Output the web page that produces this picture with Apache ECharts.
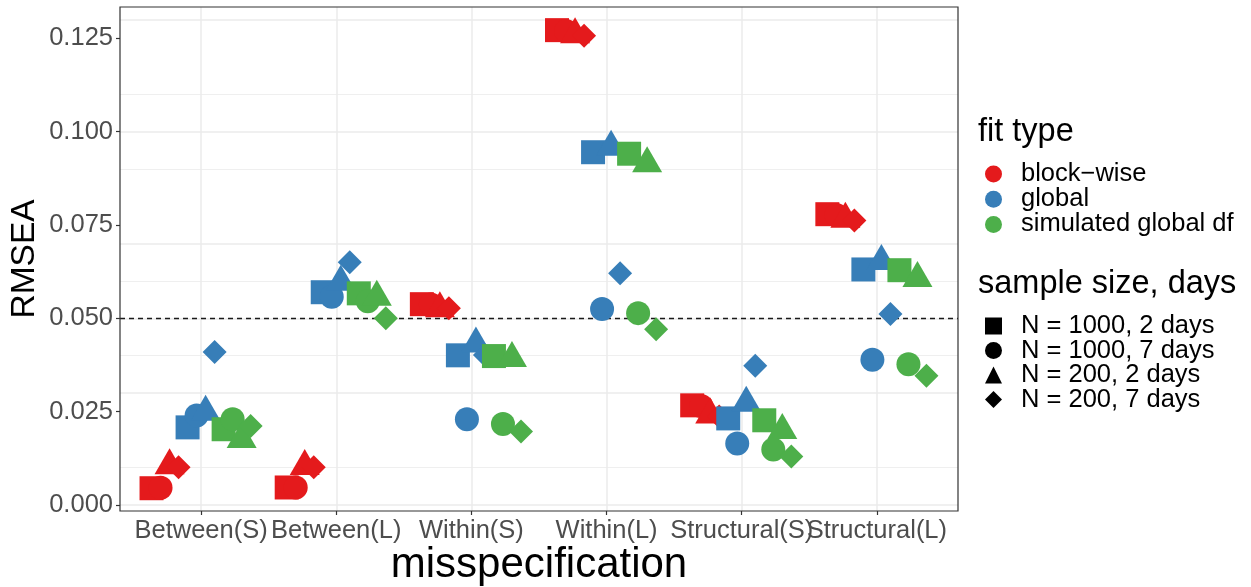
<!DOCTYPE html>
<html>
<head>
<meta charset="utf-8">
<script src="https://cdn.jsdelivr.net/npm/echarts@6/dist/echarts.min.js"></script>
<style>
html,body{margin:0;padding:0;background:#fff;}
#chart{width:1251px;height:587px;}
</style>
</head>
<body>
<div id="chart"></div>
<script>
// ---- data ----
const categories = ['Between(S)', 'Between(L)', 'Within(S)', 'Within(L)', 'Structural(S)', 'Structural(L)'];
const fitTypes = ['block\u2212wise', 'global', 'simulated global df'];
const sampleSizes = ['N = 1000, 2 days', 'N = 1000, 7 days', 'N = 200, 2 days', 'N = 200, 7 days'];
const yTicks = [0, 0.025, 0.05, 0.075, 0.1, 0.125];
const yMinorTicks = [0.0125, 0.0375, 0.0625, 0.0875, 0.1125];
const threshold = 0.05;

const blockwiseN1000d2 = [0.0045, 0.0047, 0.0538, 0.1272, 0.0267, 0.0779];
const blockwiseN1000d7 = [0.0046, 0.0047, 0.0537, 0.1270, 0.0265, 0.0777];
const blockwiseN200d2  = [0.0106, 0.0104, 0.0526, 0.1260, 0.0242, 0.0766];
const blockwiseN200d7  = [0.0101, 0.0101, 0.0527, 0.1257, 0.0237, 0.0762];
const globalN1000d2    = [0.0208, 0.0570, 0.0401, 0.0945, 0.0232, 0.0631];
const globalN1000d7    = [0.0240, 0.0558, 0.0230, 0.0525, 0.0165, 0.0389];
const globalN200d2     = [0.0249, 0.0597, 0.0432, 0.0959, 0.0273, 0.0653];
const globalN200d7     = [0.0410, 0.0650, 0.0402, 0.0621, 0.0373, 0.0512];
const simulatedN1000d2 = [0.0203, 0.0567, 0.0399, 0.0941, 0.0227, 0.0629];
const simulatedN1000d7 = [0.0230, 0.0546, 0.0217, 0.0514, 0.0149, 0.0377];
const simulatedN200d2  = [0.0176, 0.0557, 0.0393, 0.0915, 0.0200, 0.0607];
const simulatedN200d7  = [0.0212, 0.0500, 0.0197, 0.0471, 0.0130, 0.0346];

// ---- styling ----
const fitColors = ['#E41A1C', '#377EB8', '#4DAF4A'];
const shapeSymbols = ['rect', 'circle', 'triangle', 'diamond'];
const shapeSizes = [24, 24, [30, 26], 24];
const shapeOffsets = [[0, 0], [0, 0], [0, -4.3], [0, 0]];
const FONT = 'Liberation Sans, Arial, sans-serif';

const valueGroups = [
  [blockwiseN1000d2, blockwiseN1000d7, blockwiseN200d2, blockwiseN200d7],
  [globalN1000d2, globalN1000d7, globalN200d2, globalN200d7],
  [simulatedN1000d2, simulatedN1000d7, simulatedN200d2, simulatedN200d7]
];

const dodgeWidth = 0.8;
const nGroups = 12;

// panel geometry (ggplot discrete axis: 0.6 units padding on each side)
const P_LEFT = 120, P_RIGHT = 293, P_TOP = 7, P_BOTTOM = 76;
const bandPx = (1251 - P_LEFT - P_RIGHT) / (categories.length + 0.2);
const inset = 0.1 * bandPx;

const series = [];

// grid lines + reference line (drawn beneath the points)
series.push({
  type: 'scatter',
  name: '_grid',
  data: [],
  silent: true,
  markLine: {
    silent: true,
    z: 1,
    symbol: ['none', 'none'],
    label: { show: false },
    animation: false,
    data: [
      ...yMinorTicks.map(v => ({ yAxis: v, lineStyle: { color: '#EBEBEB', width: 0.8, type: 'solid' } })),
      ...yTicks.map(v => ({ yAxis: v, lineStyle: { color: '#EBEBEB', width: 1.5, type: 'solid' } })),
      ...categories.map((c, i) => ({ xAxis: i + 1, lineStyle: { color: '#EBEBEB', width: 1.5, type: 'solid' } })),
      { yAxis: threshold, lineStyle: { color: '#1a1a1a', width: 1.3, type: [5, 4] } }
    ]
  }
});

fitTypes.forEach((fit, f) => {
  sampleSizes.forEach((ss, s) => {
    const k = f * 4 + s;
    const offset = (k - (nGroups - 1) / 2) * dodgeWidth / nGroups;
    series.push({
      type: 'scatter',
      name: fit + ' / ' + ss,
      symbol: shapeSymbols[s],
      symbolSize: shapeSizes[s],
      symbolOffset: shapeOffsets[s],
      itemStyle: { color: fitColors[f], opacity: 1 },
      emphasis: { disabled: true },
      z: 3,
      data: valueGroups[f][s].map((v, i) => [i + 1 + offset, v])
    });
  });
});

// legend-only series
fitTypes.forEach((fit, f) => {
  series.push({ type: 'scatter', name: fit, data: [], symbol: 'circle', itemStyle: { color: fitColors[f], opacity: 1 } });
});
sampleSizes.forEach((ss, s) => {
  series.push({ type: 'scatter', name: ss, data: [], symbol: shapeSymbols[s], itemStyle: { color: '#000', opacity: 1 } });
});

const option = {
  animation: false,
  backgroundColor: '#fff',
  textStyle: { fontFamily: FONT },
  title: [
    { text: 'fit type', left: 978, top: 116, padding: 0, textStyle: { fontSize: 32.5, fontWeight: 'normal', color: '#000', fontFamily: FONT } },
    { text: 'sample size, days', left: 978, top: 268, padding: 0, textStyle: { fontSize: 32.5, fontWeight: 'normal', color: '#000', fontFamily: FONT } }
  ],
  grid: [
    {
      left: P_LEFT, right: P_RIGHT, top: P_TOP, bottom: P_BOTTOM,
      outerBoundsMode: 'none', containLabel: false,
      show: true, borderColor: '#333333', borderWidth: 1.2, backgroundColor: 'transparent', z: 10
    },
    {
      left: P_LEFT + inset, right: P_RIGHT + inset, top: P_TOP, bottom: P_BOTTOM,
      outerBoundsMode: 'none', containLabel: false, show: false
    }
  ],
  xAxis: [
    {
      type: 'value',
      gridIndex: 0,
      min: 0.4, max: 6.6,
      name: 'misspecification',
      nameLocation: 'middle',
      nameGap: 33,
      nameMoveOverlap: false,
      nameTextStyle: { fontSize: 42, color: '#000', fontFamily: FONT },
      axisLine: { show: false },
      splitLine: { show: false },
      axisTick: { show: false },
      axisLabel: { show: false }
    },
    {
      type: 'category',
      gridIndex: 1,
      data: categories,
      boundaryGap: true,
      axisLine: { show: false },
      splitLine: { show: false },
      axisTick: { show: true, alignWithLabel: true, interval: 0, length: 4, lineStyle: { color: '#333333', width: 1.2 } },
      axisLabel: { interval: 0, hideOverlap: false, fontSize: 25.5, color: '#4D4D4D', margin: 7, fontFamily: FONT }
    }
  ],
  yAxis: [
    {
      type: 'value',
      gridIndex: 0,
      min: -0.0016, max: 0.1334,
      name: 'RMSEA',
      nameLocation: 'middle',
      nameGap: 78,
      nameMoveOverlap: false,
      nameTextStyle: { fontSize: 33.5, color: '#000', fontFamily: FONT },
      axisLine: { show: false },
      splitLine: { show: false },
      axisTick: { show: true, length: 4, lineStyle: { color: '#333333', width: 1.2 }, customValues: yTicks },
      axisLabel: {
        fontSize: 25.5, color: '#4D4D4D', margin: 7, fontFamily: FONT,
        hideOverlap: false, showMinLabel: true, showMaxLabel: true,
        customValues: yTicks,
        formatter: v => v.toFixed(3)
      }
    },
    {
      type: 'value',
      gridIndex: 1,
      show: false
    }
  ],
  legend: [
    {
      data: fitTypes,
      orient: 'vertical',
      left: 985, top: 161, padding: 0,
      itemWidth: 17, itemHeight: 17, itemGap: -0.8,
      selectedMode: false,
      textStyle: { fontSize: 25.5, color: '#000', fontFamily: FONT, padding: [0, 0, 0, 14] }
    },
    {
      data: sampleSizes.map((ss, s) => ({ name: ss, icon: shapeSymbols[s] })),
      orient: 'vertical',
      left: 985, top: 313, padding: 0,
      itemWidth: 17, itemHeight: 17, itemGap: -1.5,
      selectedMode: false,
      textStyle: { fontSize: 25.5, color: '#000', fontFamily: FONT, padding: [0, 0, 0, 14] }
    }
  ],
  series: series
};

const chart = echarts.init(document.getElementById('chart'), null, { renderer: 'canvas' });
chart.setOption(option);
</script>
</body>
</html>
